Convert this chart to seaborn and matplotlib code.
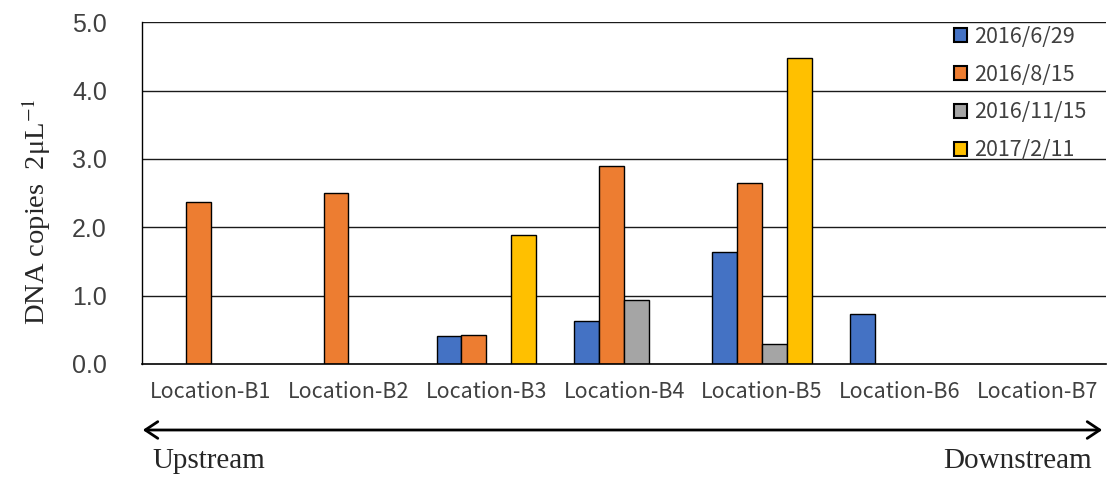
import matplotlib
matplotlib.use("Agg")
import matplotlib.pyplot as plt
import seaborn as sns
import pandas as pd
import numpy as np

locations = ["Location-B1", "Location-B2", "Location-B3", "Location-B4",
             "Location-B5", "Location-B6", "Location-B7"]
dates = ["2016/6/29", "2016/8/15", "2016/11/15", "2017/2/11"]
v_0629 = [np.nan, np.nan, 0.41, 0.63, 1.64, 0.73, np.nan]
v_0815 = [2.37, 2.50, 0.43, 2.89, 2.65, np.nan, np.nan]
v_1115 = [np.nan, np.nan, np.nan, 0.93, 0.29, np.nan, np.nan]
v_0211 = [np.nan, np.nan, 1.89, np.nan, 4.47, np.nan, np.nan]
colors = ["#4472C4", "#ED7D31", "#A5A5A5", "#FFC000"]

rows = []
for d, vals in zip(dates, [v_0629, v_0815, v_1115, v_0211]):
    for loc, v in zip(locations, vals):
        rows.append({"loc": loc, "date": d, "val": v})
df = pd.DataFrame(rows)

sns.set_style("white")
plt.rcParams["mathtext.fontset"] = "stix"
fig = plt.figure(figsize=(11.07, 4.82), dpi=100)
ax = fig.add_axes([0.128, 0.245, 0.8715, 0.709])

sns.barplot(data=df, x="loc", y="val", hue="date", order=locations,
            hue_order=dates, palette=colors, saturation=1, width=0.72,
            edgecolor="black", linewidth=1.0, ax=ax, legend=True)

ax.set_ylim(0, 5)
ax.set_xlim(-0.5, 6.5)
ax.set_yticks([0, 1, 2, 3, 4, 5])
ax.set_yticklabels([f"{t:.1f}" for t in range(6)], fontsize=18,
                   family="Liberation Sans", color="#404040")
for y in [1, 2, 3, 4, 5]:
    ax.axhline(y, color="#1a1a1a", lw=1.0, zorder=0)

ax.set_xticks(np.arange(-0.5, 7.0, 1.0), minor=False)
ax.set_xticklabels([])
ax.set_xticks(np.arange(0, 7), minor=True)
ax.set_xticklabels(locations, minor=True, fontsize=15.5, family="Noto Sans CJK JP",
                   color="#404040")
ax.tick_params(axis="x", which="major", length=7, width=1.0, direction="out", colors="black")
ax.tick_params(axis="x", which="minor", length=0, pad=12)
ax.tick_params(axis="y", length=7, width=1.0, direction="out", colors="black", pad=18)
for lab in ax.get_yticklabels():
    lab.set_color("#404040")
for lab in ax.get_xticklabels(minor=True):
    lab.set_color("#404040")

for s in ["top", "right"]:
    ax.spines[s].set_visible(False)
ax.spines["left"].set_color("black")
ax.spines["bottom"].set_color("black")
ax.spines["left"].set_linewidth(1.0)
ax.spines["bottom"].set_linewidth(1.2)

ax.set_xlabel("")
ax.set_ylabel("DNA copies  2μL$^{-1}$", fontsize=20.5, family="Liberation Serif")
ax.yaxis.set_label_coords(-0.092, 0.445)

leg = ax.legend(loc="upper left", bbox_to_anchor=(0.8425, 0.99), frameon=False,
                fontsize=15.5, labelspacing=0.74, handlelength=0.6, handleheight=0.6,
                handletextpad=0.3, borderaxespad=0.0, borderpad=0.0)
for t in leg.get_texts():
    t.set_family("Noto Sans CJK JP")
    t.set_color("#404040")
for h in leg.legend_handles:
    h.set_edgecolor("black")
    h.set_linewidth(1.5)

fig.patches.append(matplotlib.patches.FancyArrowPatch(
    (140 / 1107, 1 - 430 / 482), (1105 / 1107, 1 - 430 / 482),
    transform=fig.transFigure, arrowstyle="<->,head_length=9,head_width=6",
    color="black", lw=2.0))
fig.text(152 / 1107, 1 - 461 / 482, "Upstream", fontsize=21,
         family="Liberation Serif", va="center", ha="left")
fig.text(1092 / 1107, 1 - 461 / 482, "Downstream", fontsize=21,
         family="Liberation Serif", va="center", ha="right")

fig.savefig("out.png", dpi=100)
